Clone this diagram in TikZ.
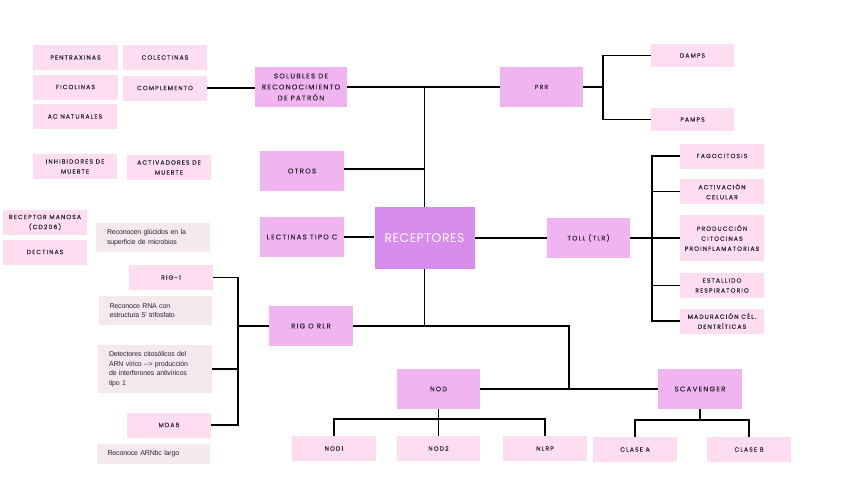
\documentclass[tikz,border=0pt]{standalone}
\usepackage{fontspec}
\setmainfont{Poppins}
\newfontfamily\capf{Poppins}[LetterSpace=18, FakeBold=0.25]
\newfontfamily\descf{Liberation Sans}[LetterSpace=-2]
\newfontfamily\bigf{Poppins}[LetterSpace=4]
\definecolor{catpink}{RGB}{240,180,240}
\definecolor{leafpink}{RGB}{253,221,239}
\definecolor{descpink}{RGB}{246,232,239}
\definecolor{recpink}{RGB}{216,140,238}
\definecolor{txt}{RGB}{45,38,48}
\tikzset{
  base/.style={inner sep=0pt, align=center, text=txt},
  cat/.style={base, fill=catpink, minimum width=84pt, minimum height=40pt, font=\capf\fontsize{7}{11}\selectfont},
  leaf/.style={base, fill=leafpink, minimum width=84pt, minimum height=25pt, font=\capf\fontsize{6.1}{10}\selectfont},
  desc/.style={base, fill=descpink, minimum width=114pt, minimum height=29pt, align=left, font=\descf\fontsize{7}{9.5}\selectfont},
  conn/.style={line width=1.4pt, black}
}
\begin{document}
\begin{tikzpicture}[x=1pt,y=-1pt]
\useasboundingbox (0,0) rectangle (848,477);
% category nodes
\node[cat, minimum width=92pt] (sol) at (301,87) {SOLUBLES DE\\RECONOCIMIENTO\\DE PATRÓN};
\node[cat] (otros) at (302,171) {OTROS};
\node[cat] (lect) at (302,237) {LECTINAS TIPO C};
\node[cat] (rig) at (311,326) {RIG O RLR};
\node[cat, minimum width=83pt, font=\capf\fontsize{6.1}{10}\selectfont] (prr) at (541.5,87) {PRR};
\node[cat, minimum width=83pt, font=\capf\fontsize{6.6}{10}\selectfont] (toll) at (588.5,238) {TOLL (TLR)};
\node[cat, minimum width=83pt, font=\capf\fontsize{6.6}{10}\selectfont] (nod) at (438.5,389) {NOD};
\node[cat] (scav) at (700,389) {SCAVENGER};
\node[base, fill=recpink, text=white, minimum width=100pt, minimum height=62pt, font=\bigf\fontsize{12.5}{14}\selectfont] (rec) at (424.5,238) {RECEPTORES};
% leaves
\node[leaf, minimum width=85pt] (pentrax) at (75.5,57.5) {PENTRAXINAS};
\node[leaf] (colect) at (165,57.5) {COLECTINAS};
\node[leaf, minimum width=85pt] (ficol) at (75.5,87) {FICOLINAS};
\node[leaf] (complem) at (165,88) {COMPLEMENTO};
\node[leaf] (acnat) at (75,116.5) {AC NATURALES};
\node[leaf] (inhib) at (75,166.5) {INHIBIDORES DE\\MUERTE};
\node[leaf] (activ) at (169,167.5) {ACTIVADORES DE\\MUERTE};
\node[leaf] (manosa) at (45,222.5) {RECEPTOR MANOSA\\(CD206)};
\node[leaf] (dect) at (45,252) {DECTINAS};
\node[leaf] (rig1) at (171,277.5) {RIG-1};
\node[leaf] (mda) at (169,425) {MDA5};
\node[leaf, minimum width=83pt, minimum height=23pt] (damps) at (692.5,55.5) {DAMPS};
\node[leaf, minimum width=83pt, minimum height=23pt] (pamps) at (692.5,119.5) {PAMPS};
\node[leaf] (fago) at (722,156) {FAGOCITOSIS};
\node[leaf] (actc) at (722,191.5) {ACTIVACIÓN\\CELULAR};
\node[leaf, minimum height=46pt] (prod) at (722,238) {PRODUCCIÓN\\CITOCINAS\\PROINFLAMATORIAS};
\node[leaf] (estal) at (722,285.5) {ESTALLIDO\\RESPIRATORIO};
\node[leaf] (madur) at (722,321) {MADURACIÓN CÉL.\\DENTRÍTICAS};
\node[leaf] (nodA) at (334,448.5) {NOD1};
\node[leaf, minimum width=83pt] (nodB) at (438.5,448.5) {NOD2};
\node[leaf] (nlrp) at (545,448.5) {NLRP};
\node[leaf] (clA) at (635,449.5) {CLASE A};
\node[leaf] (clB) at (749,449.5) {CLASE B};
% descriptions
\node[desc, text width=92pt] (gluc) at (153,237.5) {Reconocen glúcidos en la\\superficie de microbios};
\node[desc, minimum width=113pt, text width=92pt] (rna) at (155.5,310.5) {Reconoce RNA con\\estructura 5' trifosfato};
\node[desc, minimum height=48pt, text width=92pt] (det) at (155,369) {Detectores citosólicos del\\ARN vírico --> producción\\de interferones antivíricos\\tipo 1};
\node[desc, minimum width=113pt, minimum height=20pt, text width=92pt] (arn) at (153.5,454) {Reconoce ARNbc largo};
% coordinates
\coordinate (t1) at (424.5,87);
\coordinate (t2) at (424.5,169);
\coordinate (t3) at (424.5,326);
\coordinate (t4) at (569,326);
\coordinate (t5) at (569,389);
\coordinate (pb1) at (603,55.5);
\coordinate (pb2) at (603,119.5);
\coordinate (tb1) at (652,156);
\coordinate (tb2) at (652,321);
\coordinate (rb1) at (238,277.5);
\coordinate (rb2) at (238,425);
\coordinate (nb1) at (334,419);
\coordinate (nb2) at (545,419);
\coordinate (sb1) at (635,420);
\coordinate (sb2) at (749,420);
% connectors
\draw[conn] (complem.east) -- (complem.east -| sol.west);
\draw[conn] (sol.east) -- (prr.west);
\draw[conn] (t1) -- (rec.north);
\draw[conn] (otros.east |- t2) -- (t2);
\draw[conn] (lect.east) -- (lect.east -| rec.west);
\draw[conn] (rec.east) -- (toll.west);
\draw[conn] (rec.south) -- (t3);
\draw[conn] (rig.east) -- (t4) -- (t5);
\draw[conn] (nod.east) -- (scav.west);
\draw[conn] (prr.east) -- (prr.east -| pb1);
\draw[conn] (damps.west) -- (pb1) -- (pb2) -- (pamps.west);
\draw[conn] (toll.east) -- (toll.east -| tb1);
\draw[conn] (fago.west) -- (tb1) -- (tb2) -- (madur.west);
\draw[conn] (actc.west) -- (actc.west -| tb1);
\draw[conn] (prod.west) -- (prod.west -| tb1);
\draw[conn] (estal.west) -- (estal.west -| tb1);
\draw[conn] (rig1.east) -- (rb1) -- (rb2) -- (mda.east);
\draw[conn] (det.east) -- (det.east -| rb1);
\draw[conn] (rig.west) -- (rig.west -| rb1);
\draw[conn] (nod.south) -- (nod.south |- nb1);
\draw[conn] (nodA.north) -- (nb1) -- (nb2) -- (nlrp.north);
\draw[conn] (nodB.north) -- (nodB.north |- nb1);
\draw[conn] (scav.south) -- (scav.south |- sb1);
\draw[conn] (clA.north) -- (sb1) -- (sb2) -- (clB.north);
\end{tikzpicture}
\end{document}
